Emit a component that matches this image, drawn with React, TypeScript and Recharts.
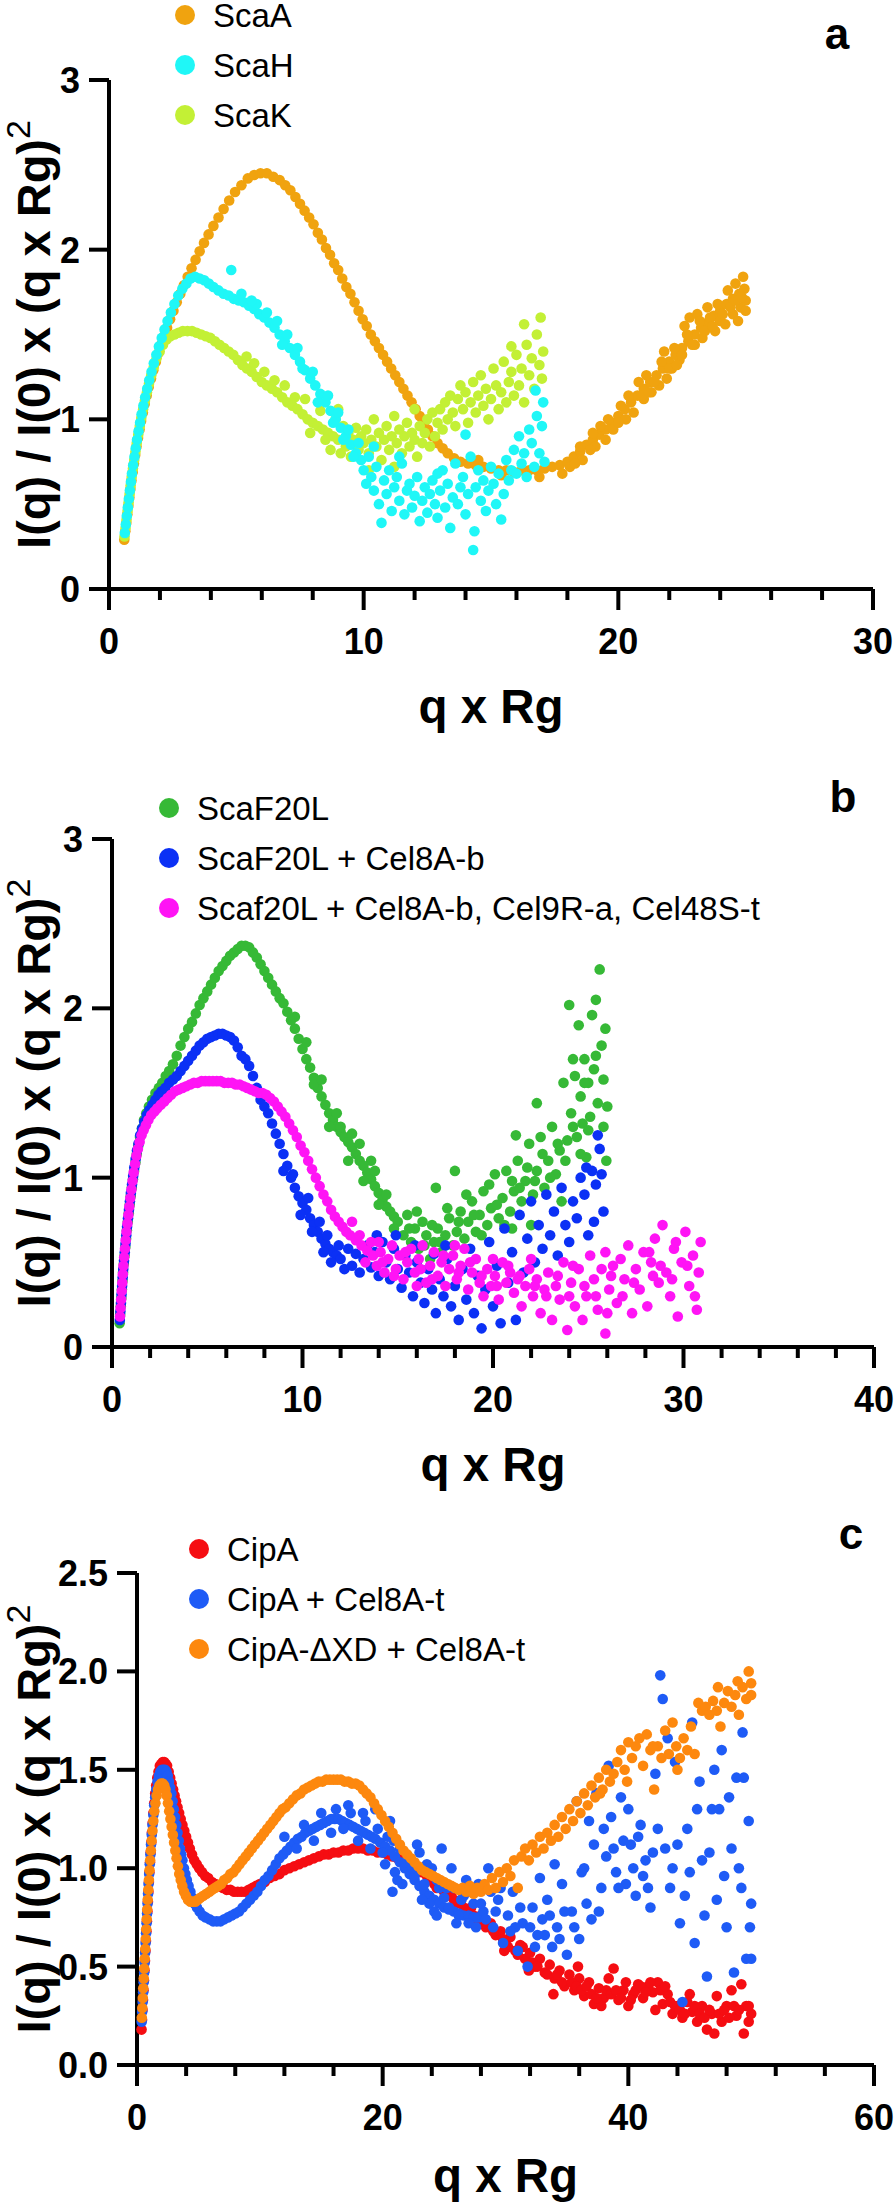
import React from 'react';
import { ScatterChart, Scatter, XAxis, YAxis } from 'recharts';

const FONT = '"Liberation Sans", Arial, Helvetica, sans-serif';
const DOT_R = 5.3;

type Pt = [number, number];

// ---------- panel a ----------
const scaA: Pt[] = [
  [0.6,0.29],[0.64,0.34],[0.68,0.39],[0.72,0.44],[0.76,0.49],[0.8,0.54],[0.84,0.59],[0.88,0.64],[0.93,0.69],[0.98,0.74],
  [1.03,0.79],[1.08,0.84],[1.14,0.89],[1.2,0.94],[1.26,0.99],[1.33,1.04],[1.4,1.09],[1.48,1.14],[1.56,1.19],[1.65,1.24],
  [1.74,1.29],[1.84,1.34],[1.94,1.39],[2.05,1.44],[2.16,1.49],[2.28,1.54],[2.4,1.59],[2.53,1.64],[2.66,1.69],[2.8,1.74],
  [2.94,1.79],[3.09,1.84],[3.24,1.89],[3.4,1.94],[3.56,1.99],[3.73,2.04],[3.91,2.09],[4.1,2.14],[4.3,2.19],[4.5,2.24],
  [4.72,2.29],[4.95,2.34],[5.2,2.38],[5.45,2.42],[5.7,2.44],[5.95,2.45],[6.2,2.45],[6.45,2.43],[6.7,2.41],[6.92,2.38],
  [7.12,2.35],[7.32,2.31],[7.5,2.27],[7.68,2.23],[7.86,2.19],[8.03,2.15],[8.2,2.1],[8.36,2.06],[8.52,2.01],[8.68,1.97],
  [8.84,1.92],[9.0,1.88],[9.16,1.83],[9.32,1.78],[9.48,1.74],[9.64,1.69],[9.8,1.64],[9.96,1.59],[10.12,1.55],[10.28,1.5],
  [10.44,1.46],[10.6,1.42],[10.76,1.38],[10.92,1.34],[11.08,1.3],[11.24,1.26],[11.4,1.22],[11.56,1.18],[11.72,1.14],[11.88,1.1],
  [12.04,1.06],[12.2,1.02],[12.36,0.98],[12.52,0.94],[12.7,0.9],[12.9,0.86],[13.1,0.83],[13.3,0.8],[13.55,0.77],[13.8,0.75],
  [14.1,0.74],[14.4,0.73],[14.7,0.72],[15.0,0.71],[15.3,0.7],[15.6,0.7],[15.9,0.69],[16.2,0.7],[16.5,0.7],[16.8,0.7],
  [17.1,0.71],[17.4,0.72],[17.7,0.73],[18.0,0.75],[18.25,0.78],[18.5,0.81],[18.75,0.85],[19.0,0.88],[19.25,0.91],[19.5,0.94],
  [19.75,0.98],[20.0,1.02],[20.25,1.06],[20.5,1.1],[20.75,1.14],[21.0,1.18],[21.25,1.22],[21.5,1.26],[21.75,1.3],[22.0,1.34],
  [22.25,1.38],[22.5,1.42],[22.75,1.46],[23.0,1.5],[23.25,1.54],[23.5,1.57],[23.75,1.61],[24.0,1.64],[24.25,1.68],[24.5,1.71],
  [24.75,1.74],[24.95,1.77],[17.8,0.68],[18.1,0.72],[18.6,0.76],[19.1,0.84],[19.5,0.88],[19.8,0.94],[20.3,1.0],[20.6,1.04],
  [21.0,1.12],[21.3,1.16],[21.6,1.2],[21.9,1.24],[22.1,1.3],[22.4,1.35],[22.6,1.55],[22.8,1.6],[23.0,1.44],[23.3,1.48],
  [23.5,1.66],[23.8,1.52],[24.0,1.58],[24.3,1.76],[24.5,1.62],[24.7,1.58],[24.8,1.66],[24.9,1.84],[25.0,1.7],[24.6,1.8],
  [23.1,1.62],[21.8,1.4],[20.8,1.22],[19.3,0.96],[16.9,0.66],[15.4,0.67],[14.5,0.76],
  [18.3,0.74],[18.9,0.82],[19.6,1.0],[20.1,1.08],[20.4,1.14],[20.9,1.14],[21.1,1.26],[21.4,1.22],[21.7,1.34],[22.0,1.3],
  [22.2,1.42],[22.5,1.38],[22.7,1.5],[22.9,1.44],[23.2,1.58],[23.4,1.52],[23.6,1.6],[23.9,1.68],[24.1,1.62],[24.4,1.66],
  [24.6,1.7],[24.85,1.72],[25.0,1.64],[24.2,1.56],[23.7,1.55],[22.3,1.32],[21.2,1.16],[20.0,0.98],[19.0,0.92],[18.5,0.84],
];

const scaH: Pt[] = [
  [0.62,0.33],[0.66,0.38],[0.7,0.43],[0.74,0.48],[0.78,0.53],[0.82,0.58],[0.86,0.63],[0.9,0.68],[0.95,0.73],[1.0,0.78],
  [1.05,0.83],[1.1,0.88],[1.16,0.93],[1.22,0.98],[1.28,1.03],[1.35,1.08],[1.42,1.13],[1.5,1.18],[1.58,1.23],[1.67,1.28],
  [1.76,1.33],[1.86,1.38],[1.96,1.43],[2.07,1.48],[2.18,1.53],[2.3,1.58],[2.43,1.63],[2.57,1.68],[2.72,1.73],[2.88,1.77],
  [3.04,1.8],[3.2,1.83],[3.38,1.84],[3.56,1.83],[3.74,1.82],[3.92,1.8],[4.1,1.78],[4.3,1.76],[4.5,1.74],[4.7,1.73],
  [4.9,1.71],[5.1,1.7],[5.3,1.69],[5.5,1.67],[5.7,1.65],[5.9,1.62],[6.1,1.6],[6.3,1.57],[6.5,1.54],[6.7,1.5],
  [6.9,1.46],[7.1,1.42],[7.3,1.38],[7.5,1.34],[7.7,1.29],[7.9,1.24],[8.1,1.2],[8.3,1.15],[8.5,1.1],[8.7,1.05],
  [8.9,1.0],[9.1,0.95],[9.3,0.9],[9.5,0.85],[9.7,0.8],[9.9,0.76],
  [4.8,1.88],[5.2,1.74],[5.8,1.68],[6.2,1.63],[6.6,1.58],[7.0,1.5],[7.4,1.42],[7.6,1.3],[8.0,1.28],[8.2,1.1],
  [8.6,1.14],[8.8,0.98],[9.0,1.04],[9.2,0.88],[9.4,0.94],[9.6,0.78],[9.8,0.86],[6.8,1.44],[5.6,1.7],
  [10.0,0.7],[10.1,0.62],[10.2,0.78],[10.3,0.66],[10.4,0.58],[10.5,0.72],[10.6,0.5],[10.7,0.39],[10.8,0.64],[10.9,0.56],
  [11.0,0.7],[11.1,0.46],[11.2,0.6],[11.3,0.66],[11.4,0.52],[11.5,0.74],[11.6,0.44],[11.7,0.58],[11.8,0.62],[11.9,0.48],
  [12.0,0.55],[12.1,0.66],[12.2,0.4],[12.3,0.52],[12.4,0.6],[12.5,0.45],[12.6,0.56],[12.7,0.64],[12.8,0.5],[12.9,0.42],
  [13.0,0.58],[13.1,0.7],[13.2,0.48],[13.3,0.62],[13.4,0.36],[13.5,0.54],[13.6,0.74],[13.7,0.5],[13.8,0.6],[13.9,0.66],
  [14.0,0.44],[14.1,0.56],[14.2,0.78],[14.3,0.23],[14.35,0.34],[14.4,0.6],[14.5,0.7],[14.6,0.52],[14.7,0.64],[14.8,0.46],
  [14.9,0.58],[15.0,0.72],[15.1,0.62],[15.2,0.5],[15.3,0.68],[15.4,0.41],[15.5,0.56],[15.6,0.76],[15.7,0.64],[15.8,0.7],
  [15.9,0.82],[16.0,0.68],[16.1,0.9],[16.2,0.74],[16.3,0.8],[16.4,0.66],[16.5,0.94],[16.6,0.86],[16.7,0.72],[16.8,1.02],
  [16.9,0.8],[17.0,0.96],[17.05,1.1],[17.1,0.75],[16.75,1.17],[14.0,0.91],[12.9,0.68],[11.4,0.78],[10.4,0.84],
];

const scaK: Pt[] = [
  [0.61,0.31],[0.65,0.36],[0.69,0.41],[0.73,0.46],[0.77,0.51],[0.81,0.56],[0.85,0.61],[0.89,0.66],[0.94,0.71],[0.99,0.76],
  [1.04,0.81],[1.09,0.86],[1.15,0.91],[1.21,0.96],[1.27,1.01],[1.34,1.06],[1.41,1.11],[1.49,1.16],[1.57,1.21],[1.66,1.26],
  [1.76,1.31],[1.87,1.36],[1.99,1.4],[2.12,1.44],[2.26,1.47],[2.41,1.49],[2.57,1.5],[2.73,1.51],[2.9,1.52],[3.08,1.52],
  [3.26,1.52],[3.44,1.51],[3.62,1.5],[3.8,1.49],[3.98,1.48],[4.16,1.46],[4.34,1.44],[4.52,1.42],[4.7,1.4],[4.88,1.38],
  [5.06,1.35],[5.24,1.32],[5.42,1.3],[5.6,1.28],[5.8,1.25],[6.0,1.22],[6.2,1.2],[6.4,1.18],[6.6,1.16],[6.8,1.13],
  [7.0,1.1],[7.2,1.08],[7.4,1.06],[7.6,1.03],[7.8,1.0],[8.0,0.98],[8.2,0.96],[8.4,0.94],[8.6,0.92],[8.8,0.9],[9.0,0.88],
  [5.4,1.37],[5.7,1.33],[6.1,1.28],[6.5,1.23],[6.9,1.2],[7.3,1.13],[7.7,1.12],[7.9,0.92],[8.3,1.05],[8.5,0.88],
  [8.7,0.82],[8.9,1.0],[9.0,1.06],[9.1,0.8],[9.2,0.96],
  [9.3,0.84],[9.4,0.92],[9.5,0.78],[9.6,0.88],[9.7,0.95],[9.8,0.82],[9.9,0.9],[10.0,0.86],[10.1,0.94],[10.2,0.8],
  [10.3,0.88],[10.4,1.0],[10.5,0.84],[10.6,0.92],[10.7,0.76],[10.8,0.88],[10.9,0.96],[11.0,0.82],[11.1,0.9],[11.2,1.02],
  [11.3,0.86],[11.4,0.94],[11.5,0.8],[11.6,0.9],[11.7,0.98],[11.8,0.84],[11.9,0.92],[12.0,0.88],[12.1,0.78],[12.2,0.96],
  [12.3,0.86],[12.4,0.92],[12.5,1.0],[12.6,0.84],[12.7,1.04],[12.8,0.9],[12.9,0.98],[13.0,1.06],[13.1,0.94],[13.2,1.1],
  [11.2,0.72],[10.2,0.7],[12.0,1.06],
  [13.3,1.0],[13.4,1.14],[13.5,1.04],[13.6,0.96],[13.7,1.12],[13.8,1.2],[13.9,1.06],[14.0,1.16],[14.1,0.98],[14.2,1.1],
  [14.3,1.22],[14.4,1.04],[14.5,1.14],[14.6,1.26],[14.7,1.08],[14.8,1.18],[14.9,1.0],[15.0,1.12],[15.1,1.3],[15.2,1.2],
  [15.3,1.06],[15.4,1.16],[15.5,1.34],[15.6,1.1],[15.7,1.22],[15.8,1.28],[15.9,1.14],[16.0,1.38],[16.1,1.2],[16.2,1.3],
  [16.3,1.1],[16.4,1.44],[16.5,1.26],[16.6,1.36],[16.7,1.18],[16.8,1.5],[16.9,1.32],[16.95,1.6],[17.0,1.24],[17.05,1.4],
  [16.3,1.56],[15.8,1.43],
];

// ---------- panel b ----------
const scaF20L: Pt[] = [
  [0.4,0.14],[0.43,0.19],[0.46,0.24],[0.49,0.29],[0.52,0.34],[0.55,0.39],[0.58,0.44],[0.62,0.49],[0.66,0.54],[0.7,0.59],
  [0.74,0.64],[0.78,0.69],[0.83,0.74],[0.88,0.79],[0.93,0.84],[0.98,0.89],[1.04,0.94],[1.1,0.99],[1.16,1.04],[1.23,1.09],
  [1.3,1.14],[1.38,1.19],[1.47,1.24],[1.57,1.29],[1.68,1.34],[1.8,1.38],[1.94,1.42],[2.1,1.46],[2.28,1.5],[2.46,1.53],
  [2.64,1.56],[2.82,1.6],[3.0,1.63],[3.2,1.67],[3.4,1.72],[3.6,1.78],[3.8,1.83],[4.0,1.88],[4.2,1.92],[4.4,1.97],
  [4.6,2.02],[4.8,2.06],[5.0,2.1],[5.2,2.14],[5.4,2.18],[5.6,2.22],[5.8,2.25],[6.0,2.28],[6.2,2.31],[6.4,2.33],
  [6.6,2.35],[6.8,2.37],[7.0,2.37],[7.2,2.36],[7.4,2.33],[7.6,2.3],[7.8,2.26],[8.0,2.22],[8.2,2.18],[8.4,2.14],
  [8.6,2.1],[8.8,2.06],[9.0,2.03],[9.2,1.98],[9.4,1.93],[9.6,1.88],[9.8,1.82],[10.0,1.76],[10.2,1.7],[10.4,1.65],
  [10.6,1.59],[10.8,1.53],[11.0,1.48],[11.2,1.43],[11.4,1.38],[11.6,1.34],[11.8,1.3],[12.0,1.27],[12.2,1.24],[12.4,1.21],
  [12.6,1.18],[12.8,1.14],[13.0,1.1],[13.2,1.07],[13.4,1.03],[13.6,0.99],[13.8,0.95],[14.0,0.91],[14.2,0.87],[14.4,0.83],
  [14.6,0.8],[14.8,0.77],[15.0,0.74],
  [9.6,1.95],[10.2,1.8],[10.6,1.55],[11.0,1.58],[11.4,1.3],[11.8,1.38],[12.0,1.3],[12.4,1.1],[12.6,1.26],[13.0,1.2],
  [13.2,0.98],[13.6,1.1],[13.8,1.04],[14.0,0.84],[14.4,0.9],[14.8,0.7],
  [15.3,0.66],[15.5,0.78],[15.7,0.62],[15.9,0.7],[16.1,0.58],[16.3,0.74],[16.5,0.66],[16.7,0.52],[16.9,0.62],[17.1,0.7],
  [17.3,0.56],[17.5,0.66],[17.7,0.76],[17.9,0.6],[18.1,0.68],[18.3,0.8],[18.5,0.64],[18.7,0.74],[18.9,0.86],[19.1,0.68],
  [19.3,0.78],[19.5,0.92],[19.7,0.72],[19.9,0.82],[20.1,1.02],[20.3,0.76],[20.5,0.88],[20.7,1.04],[20.9,0.8],[21.1,0.92],
  [21.3,1.1],[21.5,0.86],[21.7,0.98],[21.9,1.2],[22.1,0.9],[22.3,1.04],[22.5,1.24],[22.7,0.94],[22.9,1.1],[23.1,1.3],
  [23.3,1.02],[23.5,1.16],[23.7,1.56],[23.9,1.22],[24.0,2.02],[24.1,1.38],[24.3,1.6],[24.4,1.24],[24.5,1.9],[24.6,1.48],
  [24.7,1.32],[24.8,1.7],[24.9,1.12],[25.0,1.56],[25.1,1.36],[25.2,1.96],[25.3,1.64],[25.4,2.05],[25.5,1.44],[25.6,2.23],
  [25.7,1.78],[25.8,1.58],[25.9,1.88],[26.0,1.42],[25.95,1.1],[24.2,1.7],[23.6,0.86],[22.0,0.72],[21.0,0.7],[18.0,1.04],
  [17.0,0.94],[22.3,1.44],[21.2,1.25],
  [15.6,0.7],[16.0,0.8],[16.4,0.6],[16.8,0.72],[17.2,0.62],[17.6,0.82],[18.2,0.74],[18.6,0.9],[19.0,0.78],[19.4,0.66],
  [19.8,0.96],[20.2,0.84],[20.6,0.72],[21.0,0.98],[21.4,0.94],[21.8,1.06],[22.2,0.98],[22.6,1.14],[23.0,1.0],[23.4,1.2],
  [23.8,1.1],[24.2,1.3],[24.6,1.14],[25.0,1.28],[25.4,1.72],[25.8,1.3],[24.8,1.56],
];

const scaF20LCel8A: Pt[] = [
  [0.41,0.16],[0.44,0.21],[0.47,0.26],[0.5,0.31],[0.53,0.36],[0.56,0.41],[0.59,0.46],[0.63,0.51],[0.67,0.56],[0.71,0.61],
  [0.75,0.66],[0.79,0.71],[0.84,0.76],[0.89,0.81],[0.94,0.86],[0.99,0.91],[1.05,0.96],[1.11,1.01],[1.17,1.06],[1.24,1.11],
  [1.31,1.16],[1.39,1.2],[1.48,1.25],[1.58,1.29],[1.69,1.33],[1.82,1.37],[1.96,1.4],[2.12,1.43],[2.28,1.46],[2.44,1.49],
  [2.6,1.51],[2.8,1.53],[3.0,1.56],[3.2,1.58],[3.4,1.6],[3.6,1.63],[3.8,1.66],[4.0,1.69],[4.2,1.72],[4.4,1.75],
  [4.6,1.78],[4.8,1.8],[5.0,1.82],[5.2,1.83],[5.4,1.84],[5.6,1.85],[5.8,1.85],[6.0,1.84],[6.2,1.83],[6.4,1.81],
  [6.6,1.77],[6.8,1.72],[7.0,1.7],[7.2,1.66],[7.4,1.6],[7.6,1.53],[7.8,1.46],[8.0,1.42],[8.2,1.38],[8.4,1.32],
  [8.6,1.26],[8.8,1.2],[9.0,1.14],[9.2,1.07],[9.4,1.0],[9.6,0.94],[9.8,0.89],[10.0,0.85],[10.2,0.81],[10.4,0.76],
  [10.6,0.72],[10.8,0.68],[11.0,0.64],[11.2,0.61],[11.4,0.58],[11.6,0.56],[11.8,0.54],[12.0,0.52],
  [9.0,1.04],[9.5,1.02],[9.9,0.78],[10.3,0.88],[10.5,0.68],[10.9,0.74],[11.1,0.56],[11.3,0.66],[11.5,0.5],[11.9,0.6],
  [12.2,0.46],[12.4,0.58],[12.6,0.48],[12.8,0.55],[13.0,0.44],[13.2,0.52],[13.4,0.6],[13.6,0.47],[13.8,0.56],[14.0,0.42],
  [14.2,0.62],[14.4,0.5],[14.6,0.4],[14.8,0.58],[15.0,0.46],[15.2,0.35],[15.4,0.54],[15.6,0.44],[15.8,0.3],[16.0,0.5],
  [16.2,0.38],[16.4,0.26],[16.6,0.46],[16.8,0.34],[17.0,0.2],[17.2,0.4],[17.4,0.3],[17.6,0.52],[17.8,0.24],[18.0,0.36],
  [18.2,0.16],[18.4,0.46],[18.6,0.28],[18.8,0.58],[19.0,0.2],[19.2,0.42],[19.4,0.11],[19.6,0.34],[19.8,0.62],[20.0,0.24],
  [20.2,0.48],[20.4,0.14],[20.6,0.7],[20.8,0.38],[21.0,0.56],[21.2,0.16],[21.4,0.78],[21.6,0.44],[21.8,0.64],[22.0,0.86],
  [22.2,0.5],[22.4,0.72],[22.6,0.58],[22.8,0.9],[23.0,0.66],[23.2,0.8],[23.4,0.54],[23.6,0.94],[23.8,0.72],[24.0,0.62],
  [24.2,0.86],[24.4,0.76],[24.6,1.0],[24.8,0.9],[25.0,0.66],[25.2,1.04],[25.4,0.96],[25.5,1.25],[25.6,1.17],[25.7,1.02],
  [25.8,0.8],[25.3,0.74],[24.9,1.06],[17.5,0.6],[16.9,0.55],[15.9,0.6],[14.9,0.66],[13.9,0.66],
];

const scaf20LMix: Pt[] = [
  [0.42,0.18],[0.45,0.23],[0.48,0.28],[0.51,0.33],[0.54,0.38],[0.57,0.43],[0.6,0.48],[0.64,0.53],[0.68,0.58],[0.72,0.63],
  [0.76,0.68],[0.81,0.73],[0.86,0.78],[0.91,0.83],[0.96,0.88],[1.02,0.93],[1.08,0.98],[1.14,1.03],[1.21,1.08],[1.28,1.13],
  [1.36,1.17],[1.45,1.21],[1.55,1.25],[1.66,1.28],[1.78,1.31],[1.91,1.34],[2.06,1.37],[2.22,1.39],[2.38,1.41],[2.56,1.43],
  [2.74,1.45],[2.92,1.47],[3.1,1.49],[3.3,1.51],[3.5,1.52],[3.7,1.53],[3.9,1.54],[4.1,1.55],[4.3,1.56],[4.5,1.56],
  [4.7,1.57],[4.9,1.57],[5.1,1.57],[5.3,1.57],[5.5,1.57],[5.7,1.57],[5.9,1.56],[6.1,1.56],[6.3,1.56],[6.5,1.55],
  [6.7,1.55],[6.9,1.54],[7.1,1.53],[7.3,1.52],[7.5,1.51],[7.7,1.5],[7.9,1.5],[8.1,1.49],[8.3,1.47],[8.5,1.45],
  [8.7,1.42],[8.9,1.39],[9.1,1.36],[9.3,1.32],[9.5,1.28],[9.7,1.24],[9.9,1.19],[10.1,1.15],[10.3,1.1],[10.5,1.05],
  [10.7,1.0],[10.9,0.95],[11.1,0.9],[11.3,0.86],[11.5,0.81],[11.7,0.77],[11.9,0.74],[12.1,0.71],[12.3,0.68],[12.5,0.66],
  [12.8,0.63],[13.1,0.6],[13.4,0.57],[13.7,0.54],
  [12.6,0.74],[13.0,0.66],[13.3,0.5],[13.6,0.62],[13.9,0.48],[14.1,0.56],[14.3,0.44],[14.5,0.52],[14.7,0.6],[14.9,0.46],
  [15.1,0.54],[15.3,0.4],[15.5,0.5],[15.7,0.58],[15.9,0.44],[16.1,0.52],[16.3,0.6],[16.5,0.38],[16.7,0.48],[16.9,0.56],
  [17.1,0.42],[17.3,0.5],[17.5,0.36],[17.7,0.46],[17.9,0.54],[18.1,0.4],[18.3,0.48],[18.5,0.58],[18.7,0.34],[18.9,0.44],
  [19.1,0.52],[19.3,0.38],[19.5,0.3],[19.7,0.46],[19.9,0.36],[20.1,0.42],[20.3,0.28],[20.5,0.5],[20.7,0.38],[20.9,0.44],
  [21.1,0.32],[21.3,0.4],[21.5,0.24],[21.7,0.36],[21.9,0.46],[22.1,0.3],[22.3,0.4],[22.5,0.2],[22.7,0.34],[22.9,0.44],
  [23.1,0.16],[23.3,0.36],[23.5,0.28],[23.7,0.5],[23.9,0.1],[24.1,0.38],[24.3,0.24],[24.5,0.46],[24.7,0.16],[24.9,0.3],
  [25.1,0.54],[25.3,0.4],[25.5,0.22],[25.7,0.46],[25.9,0.56],[26.1,0.34],[26.3,0.48],[26.5,0.26],[26.7,0.52],[26.9,0.4],
  [27.1,0.6],[27.3,0.2],[27.5,0.46],[27.7,0.34],[27.9,0.56],[28.1,0.24],[28.3,0.5],[28.5,0.64],[28.7,0.38],[28.9,0.72],
  [29.1,0.44],[29.3,0.3],[29.5,0.58],[29.7,0.18],[29.9,0.5],[30.1,0.68],[30.3,0.36],[30.5,0.54],[30.7,0.22],[30.8,0.44],
  [30.9,0.62],[29.6,0.62],[28.4,0.42],[26.0,0.2],[25.9,0.08],[24.0,0.3],[22.0,0.52],[20.0,0.52],[18.0,0.6],[16.0,0.36],[14.0,0.62],
  [14.2,0.5],[14.8,0.42],[15.4,0.56],[16.2,0.46],[16.8,0.4],[17.4,0.54],[18.2,0.44],[18.8,0.5],[19.4,0.42],[20.2,0.36],
  [20.8,0.48],[21.4,0.42],[22.2,0.36],[22.8,0.3],[23.4,0.42],[24.2,0.48],[24.8,0.36],[25.4,0.3],[26.2,0.42],[26.8,0.3],
  [27.4,0.38],[28.2,0.56],[28.8,0.48],[29.4,0.4],[30.2,0.48],[30.6,0.3],
];

// ---------- panel c ----------
const cipA: Pt[] = [
  [0.37,0.18],[0.41,0.23],[0.45,0.28],[0.49,0.33],[0.53,0.38],[0.57,0.43],[0.61,0.48],[0.65,0.53],[0.69,0.58],[0.73,0.63],
  [0.77,0.68],[0.81,0.73],[0.85,0.78],[0.89,0.83],[0.93,0.88],[0.97,0.93],[1.01,0.98],[1.06,1.03],[1.11,1.08],[1.16,1.13],
  [1.21,1.18],[1.27,1.23],[1.33,1.28],[1.4,1.33],[1.48,1.38],[1.56,1.42],[1.65,1.46],[1.75,1.49],[1.86,1.52],[1.98,1.53],
  [2.1,1.54],[2.22,1.54],[2.34,1.53],[2.45,1.52],[2.58,1.49],[2.7,1.46],[2.82,1.43],[2.94,1.4],[3.06,1.37],[3.18,1.34],
  [3.3,1.31],[3.43,1.28],[3.56,1.25],[3.7,1.22],[3.85,1.19],[4.0,1.16],[4.15,1.13],[4.3,1.1],[4.48,1.07],[4.66,1.04],
  [4.86,1.02],[5.06,1.0],[5.3,0.98],[5.55,0.96],[5.8,0.95],[6.1,0.93],[6.4,0.92],[6.7,0.91],[7.0,0.9],[7.3,0.89],
  [7.6,0.89],[7.9,0.88],[8.2,0.88],[8.5,0.88],[8.8,0.88],[9.1,0.89],[9.4,0.9],[9.7,0.91],[10.0,0.92],[10.4,0.93],
  [10.8,0.95],[11.2,0.96],[11.6,0.97],[12.0,0.99],[12.4,1.0],[12.8,1.01],[13.2,1.02],[13.6,1.03],[14.0,1.04],[14.4,1.05],
  [14.8,1.06],[15.2,1.07],[15.6,1.07],[16.0,1.08],[16.4,1.08],[16.8,1.09],[17.2,1.09],[17.6,1.1],[18.0,1.1],[18.4,1.1],
  [18.8,1.09],[19.2,1.09],[19.6,1.08],[20.0,1.08],[20.4,1.07],[20.8,1.06],[21.2,1.05],[21.6,1.04],[22.0,1.02],[22.4,1.01],
  [22.8,0.99],[23.2,0.98],[23.6,0.96],[24.0,0.94],[24.4,0.9],[24.8,0.9],[25.2,0.86],[25.6,0.87],[26.0,0.82],[26.4,0.84],
  [26.8,0.78],[27.2,0.8],[27.6,0.74],[28.0,0.76],[28.4,0.7],[28.8,0.72],[29.2,0.66],[29.6,0.68],[30.0,0.62],[30.4,0.65],
  [30.8,0.58],[31.2,0.61],[31.6,0.54],[32.0,0.57],[32.4,0.5],[32.8,0.54],[33.2,0.47],[33.6,0.51],[34.0,0.44],[34.4,0.48],
  [34.8,0.4],[35.2,0.46],[35.6,0.38],[36.0,0.44],[36.4,0.35],[36.8,0.42],[37.2,0.31],[37.6,0.39],[38.0,0.34],[38.4,0.44],
  [38.8,0.49],[39.2,0.33],[39.6,0.38],[40.0,0.3],[40.4,0.36],[40.8,0.41],[41.2,0.34],[41.6,0.4],[42.0,0.37],[42.4,0.42],
  [42.8,0.31],[43.2,0.36],[43.6,0.26],[44.0,0.3],[44.4,0.24],[44.8,0.32],[45.2,0.27],[45.6,0.22],[46.0,0.3],[46.4,0.18],
  [46.8,0.26],[47.2,0.35],[47.6,0.22],[48.0,0.3],[48.4,0.38],[48.8,0.25],[49.2,0.41],[49.4,0.16],[49.6,0.3],[49.8,0.22],
  [50.0,0.26],[47.0,0.16],[45.0,0.36],[42.2,0.28],[39.8,0.42],[37.8,0.3],[35.9,0.5],[33.9,0.36],[31.9,0.48],[29.9,0.58],
  [24.2,0.92],[25.0,0.88],[25.8,0.84],[26.6,0.8],[27.4,0.76],[28.2,0.72],[29.0,0.68],[29.8,0.64],
  [30.2,0.6],[31.0,0.56],[31.4,0.6],[32.2,0.52],[32.6,0.5],[33.4,0.46],[34.2,0.46],[34.6,0.42],[35.4,0.42],[35.8,0.4],
  [36.2,0.38],[36.6,0.4],[37.0,0.36],[37.4,0.34],[38.2,0.38],[38.6,0.36],[39.0,0.38],[39.4,0.34],[40.2,0.33],[40.6,0.38],
  [41.0,0.4],[41.4,0.37],[41.8,0.42],[42.6,0.38],[43.0,0.4],[43.4,0.32],[43.8,0.3],[44.2,0.28],[44.6,0.26],[45.4,0.3],
  [45.8,0.26],[46.2,0.24],[46.6,0.28],[47.4,0.26],[47.8,0.28],[48.2,0.24],[48.6,0.3],[49.0,0.28],[49.8,0.3],
];

const cipACel8A: Pt[] = [
  [0.38,0.22],[0.42,0.27],[0.46,0.32],[0.5,0.37],[0.54,0.42],[0.58,0.47],[0.62,0.52],[0.66,0.57],[0.7,0.62],[0.74,0.67],
  [0.78,0.72],[0.82,0.77],[0.86,0.82],[0.9,0.87],[0.94,0.92],[0.99,0.97],[1.04,1.02],[1.09,1.07],[1.14,1.12],[1.2,1.17],
  [1.26,1.22],[1.33,1.27],[1.4,1.32],[1.48,1.36],[1.57,1.4],[1.67,1.44],[1.78,1.47],[1.9,1.49],[2.03,1.5],[2.16,1.5],
  [2.28,1.5],[2.4,1.49],[2.5,1.47],[2.6,1.44],[2.7,1.41],[2.8,1.38],[2.9,1.34],[3.0,1.3],[3.1,1.26],[3.2,1.22],
  [3.3,1.18],[3.4,1.14],[3.5,1.1],[3.6,1.07],[3.7,1.04],[3.82,1.0],[3.94,0.97],[4.06,0.94],[4.2,0.91],[4.35,0.88],
  [4.5,0.85],[4.68,0.82],[4.88,0.8],[5.1,0.78],[5.35,0.76],[5.6,0.75],[5.9,0.74],[6.2,0.73],[6.5,0.73],[6.8,0.73],
  [7.1,0.74],[7.4,0.75],[7.7,0.76],[8.0,0.77],[8.3,0.78],[8.6,0.8],[8.9,0.82],[9.2,0.84],[9.5,0.86],[9.8,0.88],
  [10.1,0.91],[10.4,0.94],[10.7,0.96],[11.0,0.99],[11.3,1.02],[11.6,1.05],[11.9,1.07],[12.2,1.09],[12.5,1.11],[12.8,1.13],
  [13.1,1.15],[13.4,1.16],[13.7,1.18],[14.0,1.19],[14.3,1.2],[14.6,1.21],[14.9,1.22],[15.2,1.23],[15.5,1.24],[15.8,1.25],
  [16.1,1.25],[16.4,1.25],[16.7,1.24],[17.0,1.23],[17.3,1.22],[17.6,1.21],[17.9,1.2],[18.2,1.19],[18.5,1.18],[18.8,1.17],
  [19.1,1.16],[19.4,1.15],[19.8,1.13],[20.2,1.11],[20.6,1.09],[21.0,1.06],[21.4,1.03],[21.8,1.0],[22.2,0.97],[22.6,0.94],
  [23.0,0.91],[23.4,0.88],[23.8,0.86],[24.2,0.84],[24.6,0.82],[25.0,0.8],[25.4,0.79],[25.8,0.78],[26.2,0.77],[26.6,0.76],
  [27.0,0.76],[27.4,0.75],[27.8,0.75],
  [12.0,1.16],[13.0,1.1],[13.6,1.22],[14.4,1.14],[15.0,1.28],[15.8,1.18],[16.2,1.3],[16.8,1.2],[17.4,1.28],[18.0,1.14],
  [18.6,1.24],[19.0,1.1],[19.6,1.2],[20.0,1.08],[20.4,1.16],[20.8,0.88],[21.0,0.98],[21.4,1.1],[21.8,1.03],[22.2,1.05],
  [22.6,0.96],[23.0,1.08],[23.4,0.92],[23.8,0.82],[24.0,1.0],[24.2,0.78],[24.6,0.9],[24.8,1.1],[25.0,0.85],[25.4,0.8],
  [25.8,0.9],[26.2,0.76],[26.6,0.86],[27.0,0.72],[27.4,0.82],[27.8,0.92],[28.2,0.78],[28.6,1.0],[29.0,0.7],[29.4,0.84],
  [29.8,0.62],[30.2,0.76],[30.6,0.88],[31.0,0.58],[31.4,0.72],[31.8,0.5],[32.2,0.8],[32.6,0.66],[33.0,0.74],[33.4,0.84],
  [33.8,0.6],[34.2,0.7],[34.6,0.92],[35.0,0.56],[35.4,0.78],[35.8,1.34],[36.0,0.64],[36.4,1.0],[36.8,1.24],[37.0,0.74],
  [37.4,1.38],[37.8,0.9],[38.2,1.06],[38.6,1.26],[39.0,0.98],[39.4,1.36],[39.8,0.92],[40.2,1.12],[40.6,0.86],[41.0,1.22],
  [41.4,1.04],[41.8,0.8],[42.2,1.48],[42.6,1.98],[42.8,1.86],[43.0,1.1],[43.4,0.9],[43.8,1.54],[44.2,0.72],[44.4,0.32],
  [44.8,1.2],[45.0,0.98],[45.4,0.62],[45.8,1.44],[46.0,1.04],[46.4,0.45],[46.8,1.3],[47.2,0.84],[47.6,1.6],[48.0,0.7],
  [48.4,1.1],[48.6,0.47],[48.8,1.46],[49.2,0.9],[49.3,1.69],[49.6,0.54],[49.8,1.24],[50.0,0.82],[49.9,0.7],[47.0,1.5],
  [45.2,1.74],[43.2,1.66],[41.6,0.9],[39.6,1.14],[38.4,1.52],[36.2,0.98],[34.0,1.02],[32.8,0.95],[30.8,0.7],[28.8,0.88],
  [26.8,0.94],[25.6,1.0],[24.4,0.94],[22.8,1.12],[21.6,0.92],[20.6,1.24],[19.4,1.3],[18.4,1.28],[17.2,1.32],
  [20.2,1.02],[20.9,1.14],[21.2,0.94],[22.4,1.0],[23.2,0.84],[23.6,1.02],[24.4,0.76],[25.2,0.9],[26.0,0.72],[26.4,0.84],
  [27.2,0.88],[27.6,0.7],[28.0,0.82],[28.4,0.74],[29.2,0.78],[29.6,0.9],[30.4,0.68],[31.2,0.8],[32.0,0.7],[32.4,0.6],
  [33.2,0.66],[33.6,0.76],[34.4,0.64],[34.8,0.78],[35.6,0.7],[36.6,0.82],[37.2,1.12],[37.6,0.78],[38.0,1.2],[38.8,1.1],
  [39.2,0.9],[40.0,1.3],[40.4,1.0],[40.8,1.16],[41.2,0.96],[42.0,1.08],[42.4,1.2],[43.6,1.0],[44.0,1.12],[44.6,0.86],
  [45.6,1.3],[46.2,0.76],[46.6,1.08],[47.4,1.3],[47.8,0.96],[48.2,1.36],[49.0,1.0],[49.4,1.46],[50.0,0.54],
];

const cipADXD: Pt[] = [
  [0.39,0.24],[0.43,0.29],[0.47,0.34],[0.51,0.39],[0.55,0.44],[0.59,0.49],[0.63,0.54],[0.67,0.59],[0.71,0.64],[0.75,0.69],
  [0.79,0.74],[0.83,0.79],[0.87,0.84],[0.92,0.89],[0.97,0.94],[1.02,0.99],[1.07,1.04],[1.13,1.09],[1.19,1.14],[1.26,1.19],
  [1.33,1.24],[1.41,1.29],[1.5,1.33],[1.6,1.37],[1.71,1.4],[1.83,1.42],[1.96,1.43],[2.09,1.43],[2.22,1.42],[2.32,1.4],
  [2.42,1.37],[2.52,1.33],[2.62,1.29],[2.72,1.25],[2.82,1.21],[2.92,1.17],[3.02,1.13],[3.12,1.09],[3.22,1.05],[3.33,1.01],
  [3.44,0.97],[3.56,0.94],[3.69,0.91],[3.83,0.88],[3.98,0.86],[4.15,0.84],[4.35,0.83],[4.55,0.83],[4.75,0.83],[4.95,0.84],
  [5.15,0.85],[5.4,0.86],[5.65,0.87],[5.9,0.88],[6.1,0.89],[6.35,0.9],[6.6,0.91],[6.85,0.92],[7.1,0.94],[7.35,0.95],
  [7.6,0.97],[7.85,0.98],[8.1,1.0],[8.35,1.02],[8.6,1.04],[8.85,1.06],[9.1,1.08],[9.35,1.1],[9.6,1.12],[9.85,1.14],
  [10.1,1.16],[10.35,1.18],[10.6,1.2],[10.85,1.22],[11.1,1.24],[11.35,1.26],[11.6,1.28],[11.85,1.3],[12.1,1.31],[12.4,1.33],
  [12.7,1.35],[13.0,1.37],[13.3,1.38],[13.6,1.4],[13.9,1.41],[14.2,1.42],[14.5,1.43],[14.8,1.44],[15.1,1.44],[15.4,1.45],
  [15.7,1.45],[16.0,1.45],[16.3,1.45],[16.6,1.45],[16.9,1.44],[17.2,1.44],[17.5,1.43],[17.8,1.43],[18.1,1.42],[18.4,1.4],
  [18.7,1.38],[19.0,1.36],[19.3,1.33],[19.6,1.3],[19.9,1.27],[20.2,1.24],[20.5,1.21],[20.8,1.18],[21.1,1.15],[21.4,1.12],
  [21.7,1.09],[22.0,1.07],[22.3,1.05],[22.6,1.03],[22.9,1.01],[23.2,0.99],[23.5,0.98],[23.8,0.97],[24.1,0.96],[24.4,0.95],
  [24.7,0.94],[25.0,0.93],[25.3,0.92],[25.6,0.91],[25.9,0.9],[26.2,0.89],[26.5,0.9],[26.8,0.88],[27.1,0.91],[27.4,0.87],
  [27.7,0.9],[28.0,0.88],[28.3,0.92],[28.6,0.89],[28.9,0.95],[29.2,0.9],[29.5,0.98],[29.8,0.93],[30.1,1.0],[30.4,0.96],
  [30.7,1.04],[31.0,0.9],[31.3,1.06],[31.6,1.1],[31.9,1.04],[32.2,1.12],[32.5,1.08],[32.8,1.16],[33.1,1.1],[33.4,1.18],
  [33.7,1.14],[34.0,1.22],[34.3,1.16],[34.6,1.26],[34.9,1.2],[35.2,1.3],[35.5,1.24],[35.8,1.34],[36.1,1.28],[36.4,1.38],
  [36.7,1.32],[37.0,1.42],[37.3,1.36],[37.6,1.46],[37.9,1.4],[38.2,1.5],[38.5,1.44],[38.8,1.48],[39.1,1.54],[39.4,1.6],
  [39.7,1.5],[40.0,1.64],[40.3,1.56],[40.6,1.62],[40.9,1.66],[41.2,1.52],[41.5,1.68],[41.8,1.6],[42.1,1.4],[42.4,1.62],
  [42.7,1.56],[43.0,1.7],[43.3,1.58],[43.6,1.74],[43.9,1.62],[44.2,1.56],[44.5,1.66],[44.8,1.6],[45.1,1.72],[45.4,1.58],
  [45.7,1.84],[46.0,1.8],[46.3,1.82],[46.6,1.78],[46.9,1.85],[47.2,1.8],[47.5,1.72],[47.8,1.84],[48.1,1.9],[48.4,1.82],
  [48.7,1.88],[49.0,1.78],[49.3,1.92],[49.6,1.86],[49.8,2.0],[50.0,1.94],[50.0,1.88],[48.9,1.95],[47.3,1.92],[44.0,1.5],
  [42.0,1.62],[39.9,1.44],[37.7,1.38],
];

// ---------- axes ----------
const xTicksA = [0, 2, 4, 6, 8, 10, 12, 14, 16, 18, 20, 22, 24, 26, 28, 30];
const xMajorA = [0, 10, 20, 30];
const xTicksB = [0, 2, 4, 6, 8, 10, 12, 14, 16, 18, 20, 22, 24, 26, 28, 30, 32, 34, 36, 38, 40];
const xMajorB = [0, 10, 20, 30, 40];
const xTicksC = [0, 4, 8, 12, 16, 20, 24, 28, 32, 36, 40, 44, 48, 52, 56, 60];
const xMajorC = [0, 20, 40, 60];
const yTicksAB = [0, 1, 2, 3];
const yTicksC = [0, 0.5, 1, 1.5, 2, 2.5];

const namesA = ['ScaA', 'ScaH', 'ScaK'];
const namesB = ['ScaF20L', 'ScaF20L + Cel8A-b', 'Scaf20L + Cel8A-b, Cel9R-a, Cel48S-t'];
const namesC = ['CipA', 'CipA + Cel8A-t', 'CipA-\u0394XD + Cel8A-t'];

const colorsA = ['#F0A30F', '#1FF7F7', '#C3F035'];
const colorsB = ['#36B936', '#0B30F5', '#FF14F5'];
const colorsC = ['#F50D12', '#1E5BF6', '#FD880E'];

const toRows = (pts: Pt[]) => pts.map(([q, v]) => ({ q, v }));

const XTick = (props: any) => {
  const { x, y, payload, majors } = props;
  const major = majors.includes(payload.value);
  return (
    <g>
      <line x1={x} x2={x} y1={y} y2={y + (major ? 21 : 11)} stroke="#000" strokeWidth={4} />
      {major && (
        <text x={x} y={y + 65} textAnchor="middle" fontFamily={FONT} fontWeight={700} fontSize={36} fill="#000">
          {payload.value}
        </text>
      )}
    </g>
  );
};

const YTick = (props: any) => {
  const { x, y, payload, fmt } = props;
  return (
    <text x={x} y={y + 13} textAnchor="end" fontFamily={FONT} fontWeight={700} fontSize={36} fill="#000">
      {fmt(payload.value)}
    </text>
  );
};

const YTitle = (props: any) => {
  const vb = props.viewBox;
  const cy = vb.y + vb.height / 2;
  return (
    <text x={50} y={cy} transform={`rotate(-90 50 ${cy})`} textAnchor="middle" fontFamily={FONT}
      fontWeight={700} fontSize={47} fill="#000">
      I(q) / I(0) x (q x Rg)
      <tspan fontSize={34} fontWeight={400} dy={-20}>2</tspan>
    </text>
  );
};

const XTitle = (props: any) => {
  const vb = props.viewBox;
  return (
    <text x={vb.x + vb.width / 2} y={vb.y + props.dy} textAnchor="middle" fontFamily={FONT}
      fontWeight={700} fontSize={47.5} fill="#000">
      q x Rg
    </text>
  );
};

type PanelProps = {
  top: number;
  height: number;
  plotTop: number;
  plotLeft: number;
  plotRight: number;
  plotH: number;
  titleDy: number;
  xMax: number;
  xTicks: number[];
  xMajor: number[];
  yMax: number;
  yTicks: number[];
  fmt: (v: number) => string;
  series: { name: string; color: string; pts: Pt[] }[];
  drawOrder: number[];
  legendX: number;
  legendY: number;
  letter: string;
  letterX: number;
  letterTop: number;
};

const Panel = (p: PanelProps) => {
  const xAxisH = p.height - p.plotTop - p.plotH;
  return (
    <div style={{ position: 'absolute', left: 0, top: p.top, width: 896, height: p.height }}>
      <ScatterChart width={896} height={p.height}
        margin={{ top: p.plotTop, right: 896 - p.plotRight, bottom: 0, left: 0 }}>
        <XAxis type="number" dataKey="q" domain={[0, p.xMax]} ticks={p.xTicks} interval={0}
          height={xAxisH} tickSize={0} tickMargin={0} tickLine={false}
          axisLine={{ stroke: '#000', strokeWidth: 4 }}
          tick={(t: any) => <XTick {...t} majors={p.xMajor} />}
          label={(l: any) => <XTitle {...l} dy={p.titleDy} />} />
        <YAxis type="number" dataKey="v" domain={[0, p.yMax]} ticks={p.yTicks} interval={0}
          width={p.plotLeft} tickSize={20} tickMargin={9} stroke="#000"
          tickLine={{ stroke: '#000', strokeWidth: 4 }}
          axisLine={{ stroke: '#000', strokeWidth: 4 }}
          tick={(t: any) => <YTick {...t} fmt={p.fmt} />}
          label={(l: any) => <YTitle {...l} />} />
        {p.drawOrder.map((i) => {
          const s = p.series[i];
          return (
            <Scatter key={s.name} name={s.name} data={toRows(s.pts)} fill={s.color} isAnimationActive={false}
              shape={(d: any) => <circle cx={d.cx} cy={d.cy} r={DOT_R} fill={s.color} />} />
          );
        })}
      </ScatterChart>
      {p.series.map((s, i) => (
        <div key={s.name}>
          <div style={{ position: 'absolute', left: p.legendX - 10, top: p.legendY + i * 50 - 10, width: 20, height: 20,
            borderRadius: 10, background: s.color }} />
          <div style={{ position: 'absolute', left: p.legendX + 28, top: p.legendY + i * 50 - 16.5, height: 33,
            lineHeight: '33px', fontSize: 33, fontFamily: FONT, color: '#000', whiteSpace: 'nowrap' }}>
            {s.name}
          </div>
        </div>
      ))}
      <div style={{ position: 'absolute', left: p.letterX - 30, top: p.letterTop, width: 60, textAlign: 'center',
        fontSize: 44, lineHeight: '44px', fontWeight: 700, fontFamily: FONT, color: '#000' }}>
        {p.letter}
      </div>
    </div>
  );
};

const App = () => {
  return (
    <div style={{ position: 'absolute', left: 0, top: 0, width: 896, height: 2206, background: '#fff' }}>
      <Panel top={0} height={760} plotTop={80} plotLeft={109} plotRight={873} plotH={509} titleDy={134}
        xMax={30} xTicks={xTicksA} xMajor={xMajorA} yMax={3} yTicks={yTicksAB} fmt={(v) => String(v)}
        series={[
          { name: namesA[0], color: colorsA[0], pts: scaA },
          { name: namesA[1], color: colorsA[1], pts: scaH },
          { name: namesA[2], color: colorsA[2], pts: scaK },
        ]}
        drawOrder={[0, 2, 1]}
        legendX={185} legendY={15} letter="a" letterX={837} letterTop={12} />
      <Panel top={760} height={740} plotTop={79} plotLeft={112} plotRight={874} plotH={508} titleDy={134}
        xMax={40} xTicks={xTicksB} xMajor={xMajorB} yMax={3} yTicks={yTicksAB} fmt={(v) => String(v)}
        series={[
          { name: namesB[0], color: colorsB[0], pts: scaF20L },
          { name: namesB[1], color: colorsB[1], pts: scaF20LCel8A },
          { name: namesB[2], color: colorsB[2], pts: scaf20LMix },
        ]}
        drawOrder={[0, 1, 2]}
        legendX={169} legendY={48} letter="b" letterX={843} letterTop={15} />
      <Panel top={1500} height={706} plotTop={73} plotLeft={137} plotRight={874} plotH={492} titleDy={127}
        xMax={60} xTicks={xTicksC} xMajor={xMajorC} yMax={2.5} yTicks={yTicksC} fmt={(v) => v.toFixed(1)}
        series={[
          { name: namesC[0], color: colorsC[0], pts: cipA },
          { name: namesC[1], color: colorsC[1], pts: cipACel8A },
          { name: namesC[2], color: colorsC[2], pts: cipADXD },
        ]}
        drawOrder={[0, 1, 2]}
        legendX={199} legendY={49} letter="c" letterX={851} letterTop={12} />
    </div>
  );
};

export default App;
